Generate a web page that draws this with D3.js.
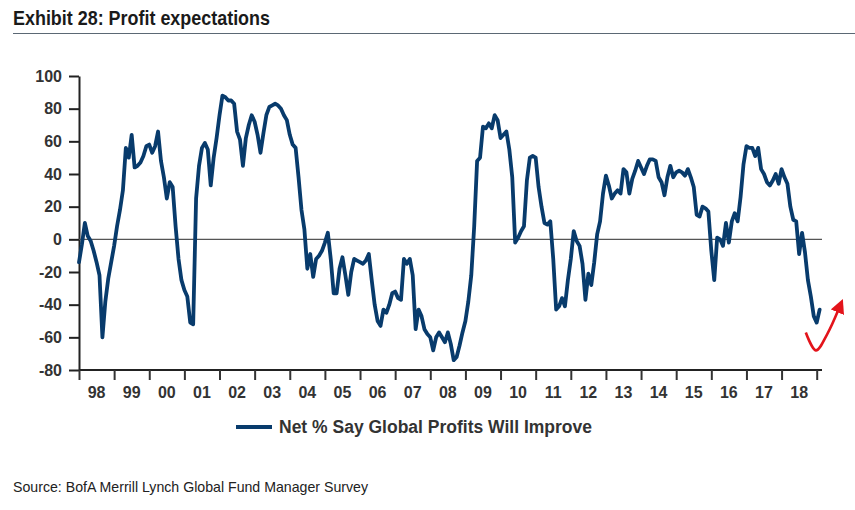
<!DOCTYPE html>
<html>
<head>
<meta charset="utf-8">
<script src="https://cdn.jsdelivr.net/npm/d3@7"></script>
<style>
  body { margin: 0; background: #fff; }
  svg { display: block; }
</style>
</head>
<body>
<div class="container"></div>
<script>
// monthly survey readings, Jan 1998 .. Feb 2019
var startYear = 1998;
var profitNet = [
  -14, -3, 10, 2, -1, -7, -14, -22, -60, -38, -24, -14,   // 98
  -4, 8, 18, 30, 56, 50, 64, 44, 45, 47, 51, 57,          // 99
  58, 53, 57, 66, 48, 38, 25, 35, 32, 8, -12, -25,        // 00
  -31, -35, -51, -52, 25, 45, 56, 59, 55, 33, 50, 62,     // 01
  76, 88, 87, 85, 85, 83, 66, 61, 45, 62, 70, 76,         // 02
  72, 64, 53, 65, 76, 81, 82, 83, 82, 80, 76, 73,         // 03
  64, 58, 56, 38, 18, 6, -18, -9, -23, -12, -10, -7,      // 04
  -2, 4, -12, -33, -33, -18, -11, -22, -34, -20, -12, -13, // 05
  -14, -15, -13, -9, -25, -40, -50, -53, -43, -45, -40, -33, // 06
  -32, -36, -37, -12, -15, -12, -22, -55, -43, -47, -55, -58, // 07
  -60, -68, -60, -57, -60, -63, -57, -64, -74, -72, -65, -57, // 08
  -50, -38, -22, 8, 48, 50, 69, 68, 71, 68, 76, 73,       // 09
  62, 64, 66, 55, 38, -2, 1, 5, 8, 36, 50, 51,            // 10
  50, 32, 20, 10, 9, 11, -12, -43, -41, -36, -41, -25,    // 11
  -12, 5, -1, -4, -15, -37, -21, -28, -14, 3, 11, 28,     // 12
  39, 33, 25, 28, 30, 28, 43, 41, 28, 37, 42, 48,         // 13
  44, 40, 45, 49, 49, 48, 38, 35, 27, 38, 45, 38,         // 14
  41, 42, 41, 39, 43, 38, 32, 15, 14, 20, 19, 17,         // 15
  -7, -25, 1, 0, -4, 10, -2, 11, 16, 11, 26, 46,          // 16
  57, 56, 56, 51, 56, 43, 40, 35, 33, 36, 40, 34,         // 17
  43, 38, 34, 20, 12, 11, -9, 4, -8, -25, -35, -47,       // 18
  -51, -43                                                // 19
];
var yTicks = [100, 80, 60, 40, 20, 0, -20, -40, -60, -80];
var yearLabels = ["98", "99", "00", "01", "02", "03", "04", "05", "06", "07",
  "08", "09", "10", "11", "12", "13", "14", "15", "16", "17", "18"];
// hand-drawn red "turning up" arrow, in (year, value) space
var arrowYears = [2018.69, 2018.98, 2019.3, 2019.62];
var arrowValues = [-57, -68, -58, -43];

var chart = {
  width: 855,
  height: 510,
  left: 79,
  right: 816.7,
  top: 76,
  bottom: 370
};

var svg = d3.select(".container")
  .append("svg")
  .attr("width", chart.width)
  .attr("height", chart.height);

var x = d3.scaleLinear().domain([startYear, startYear + yearLabels.length]).range([chart.left, chart.right]);
var y = d3.scaleLinear().domain([-80, 100]).range([chart.bottom, chart.top]);

var series = profitNet.map(function(v, i) { return { t: startYear + i / 12, v: v }; });

// title + rule
svg.append("text")
  .attr("x", 13).attr("y", 25)
  .attr("textLength", 257).attr("lengthAdjust", "spacingAndGlyphs")
  .style("font-family", "'Liberation Sans Narrow', 'Arial Narrow', 'Liberation Sans', Arial, sans-serif")
  .style("font-weight", "bold").style("font-size", "21px").style("fill", "#1a1a1a")
  .text("Exhibit 28: Profit expectations");
svg.append("line")
  .attr("x1", 13).attr("x2", 855).attr("y1", 33.5).attr("y2", 33.5)
  .style("stroke", "#5b6874").style("stroke-width", 1);

var tickFont = "'Liberation Sans', Arial, sans-serif";

// y axis (plain hyphen for negatives, like the original)
var yAxis = svg.append("g")
  .attr("transform", "translate(" + chart.left + ",0)")
  .call(d3.axisLeft(y).tickValues(yTicks).tickSize(10).tickSizeOuter(0).tickPadding(7)
    .tickFormat(function(d) { return String(d); }));
yAxis.select(".domain").style("stroke", "#222").style("stroke-width", 2);
yAxis.selectAll(".tick line").style("stroke", "#222").style("stroke-width", 2);
yAxis.selectAll(".tick text")
  .style("font-family", tickFont).style("font-weight", "bold").style("font-size", "16px").style("fill", "#333");

// x axis (year boundaries)
var xAxis = svg.append("g")
  .attr("transform", "translate(0," + chart.bottom + ")")
  .call(d3.axisBottom(x).tickValues(d3.range(startYear, startYear + yearLabels.length + 1)).tickSize(10).tickSizeOuter(0).tickFormat(""));
xAxis.select(".domain").attr("d", "M" + chart.left + ",0H822").style("stroke", "#222").style("stroke-width", 2);
xAxis.selectAll(".tick line").style("stroke", "#333").style("stroke-width", 2);

svg.append("g").selectAll("text").data(yearLabels).enter().append("text")
  .attr("x", function(d, i) { return x(startYear + i + 0.5); })
  .attr("y", 398)
  .attr("text-anchor", "middle")
  .style("font-family", tickFont).style("font-weight", "bold").style("font-size", "16px").style("fill", "#333")
  .text(function(d) { return d; });

// zero line
svg.append("line")
  .attr("x1", chart.left).attr("x2", 822).attr("y1", y(0)).attr("y2", y(0))
  .style("stroke", "#555").style("stroke-width", 1.3);

// the series
var line = d3.line().x(function(d) { return x(d.t); }).y(function(d) { return y(d.v); });
svg.append("path")
  .datum(series)
  .attr("d", line)
  .style("fill", "none").style("stroke", "#083b6c").style("stroke-width", 3.8)
  .style("stroke-linejoin", "round").style("stroke-linecap", "round");

// red arrow
svg.append("defs").append("marker")
  .attr("id", "head").attr("viewBox", "0 0 10 10").attr("refX", 2).attr("refY", 5)
  .attr("markerWidth", 5.5).attr("markerHeight", 5.5).attr("orient", "auto")
  .append("path").attr("d", "M0,0L10,5L0,10Z").style("fill", "#e3141b");
var arrowLine = d3.line().curve(d3.curveCatmullRom)
  .x(function(d, i) { return x(arrowYears[i]); })
  .y(function(d) { return y(d); });
svg.append("path")
  .datum(arrowValues)
  .attr("d", arrowLine)
  .attr("marker-end", "url(#head)")
  .style("fill", "none").style("stroke", "#e3141b").style("stroke-width", 2.6);

// legend
svg.append("line")
  .attr("x1", 236).attr("x2", 272).attr("y1", 427).attr("y2", 427)
  .style("stroke", "#083b6c").style("stroke-width", 3.8);
svg.append("text")
  .attr("x", 279).attr("y", 433)
  .style("font-family", tickFont).style("font-weight", "bold").style("font-size", "17.5px").style("fill", "#333")
  .text("Net % Say Global Profits Will Improve");

// source
svg.append("text")
  .attr("x", 13).attr("y", 492)
  .attr("textLength", 355).attr("lengthAdjust", "spacingAndGlyphs")
  .style("font-family", "'Liberation Sans Narrow', 'Arial Narrow', 'Liberation Sans', Arial, sans-serif")
  .style("font-size", "15px").style("fill", "#222")
  .text("Source: BofA Merrill Lynch Global Fund Manager Survey");
</script>
</body>
</html>
